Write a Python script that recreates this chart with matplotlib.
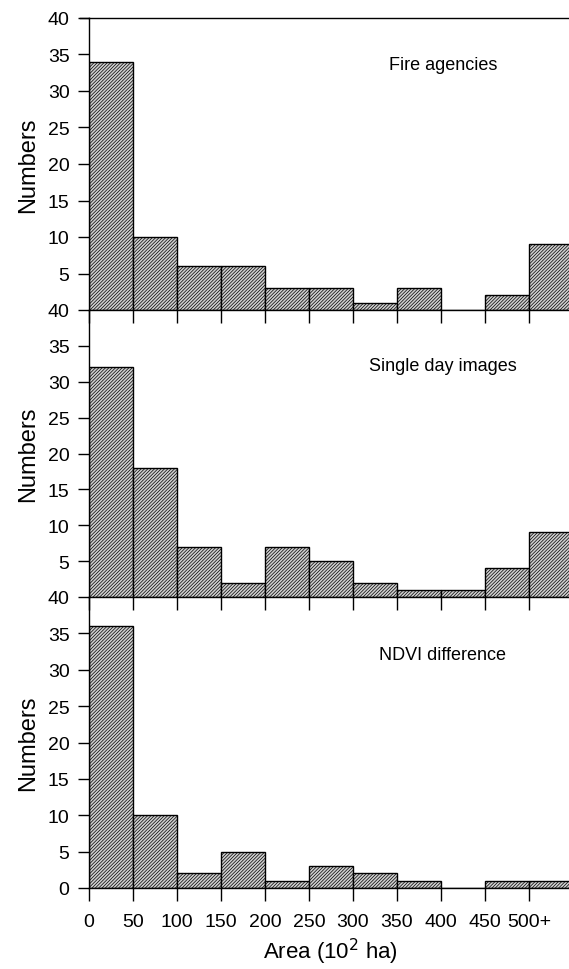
import matplotlib
matplotlib.use("Agg")
import matplotlib.pyplot as plt
import numpy as np

plt.rcParams['font.family'] = ['Liberation Sans', 'DejaVu Sans']
plt.rcParams['hatch.linewidth'] = 0.5

bin_lefts = [0, 50, 100, 150, 200, 250, 300, 350, 400, 450, 500]
tick_labels = ['0', '50', '100', '150', '200', '250', '300', '350', '400', '450', '500+']
fire_agencies = [34, 10, 6, 6, 3, 3, 1, 3, 0, 2, 9]
single_day = [32, 18, 7, 2, 7, 5, 2, 1, 1, 4, 9]
ndvi_diff = [36, 10, 2, 5, 1, 3, 2, 1, 0, 1, 1]
panel_titles = ['Fire agencies', 'Single day images', 'NDVI difference']
series = [fire_agencies, single_day, ndvi_diff]

W, H = 569, 970
fig = plt.figure(figsize=(W / 100, H / 100), dpi=100)

left = 89 / W
panels_px = [(19, 311), (311, 598), (598, 889)]
text_y_px = [66, 367, 656]
text_x_px = 443

for i, (vals, title) in enumerate(zip(series, panel_titles)):
    top, bot = panels_px[i]
    ax = fig.add_axes([left, 1 - bot / H, 1 - left, (bot - top) / H])
    ax.bar(bin_lefts, vals, width=50, align='edge', facecolor='#cfcfcf',
           edgecolor='black', hatch='//////////', linewidth=1.0, zorder=2)
    ax.set_xlim(0, 545.5)
    ax.set_ylim(0, 40)
    if i < 2:
        ax.set_yticks([5, 10, 15, 20, 25, 30, 35, 40])
        ax.set_xticks(bin_lefts)
        ax.set_xticklabels([])
    else:
        ax.set_yticks([0, 5, 10, 15, 20, 25, 30, 35, 40])
        ax.set_xticks(bin_lefts)
        ax.set_xticklabels(tick_labels, fontsize=14)
    ax.tick_params(axis='y', labelsize=14, direction='out', length=8, width=1, pad=6)
    ax.tick_params(axis='x', direction='out', length=9, width=1, pad=9)
    ax.spines['right'].set_visible(False)
    ax.spines['top'].set_visible(i == 0)
    for s in ['left', 'bottom', 'top']:
        ax.spines[s].set_linewidth(1.0)
    ax.patch.set_alpha(0)
    ax.set_ylabel('Numbers', fontsize=17, labelpad=6)
    xd = (text_x_px - 89) / 44 * 50
    yd = 40 - (text_y_px[i] - top) / (bot - top) * 40
    ax.text(xd, yd, title, fontsize=13, ha='center', va='center')
    if i == 0:
        ax.plot([-10, 0], [40, 40], color='black', lw=1.0, clip_on=False)

fig.text(330 / W, 1 - 952 / H, 'Area (10$^2$ ha)', fontsize=16,
         ha='center', va='center')

fig.savefig('out.png', dpi=100)
